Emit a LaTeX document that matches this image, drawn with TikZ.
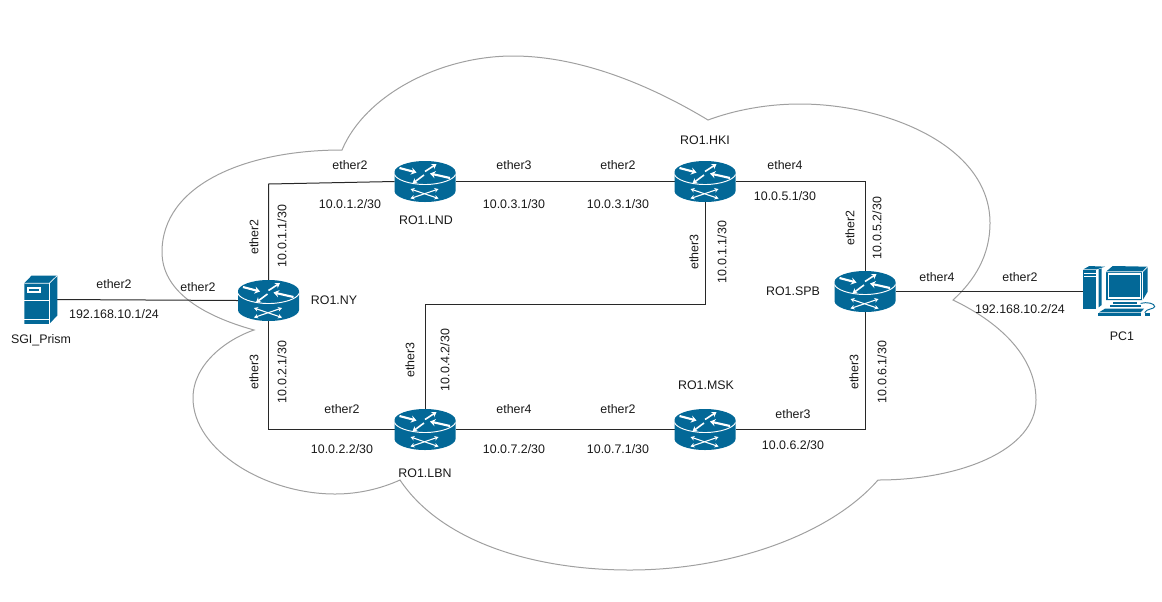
\documentclass[tikz,border=0pt]{standalone}
\usepackage{fontspec}
\setmainfont{Liberation Sans}
\usetikzlibrary{arrows.meta}

\definecolor{ciscoblue}{RGB}{3,104,151}
\tikzset{every picture/.style={line width=0.75pt}}
\tikzset{
  netline/.style={color={rgb, 255:red, 40; green, 40; blue, 40 }},
  cloudline/.style={color={rgb, 255:red, 160; green, 160; blue, 160 }},
  lbl/.style={inner sep=0.75pt,font=\fontsize{9.3pt}{11pt}\selectfont,color={rgb, 255:red, 25; green, 25; blue, 25 }},
  vlbl/.style={lbl,rotate=90},
  routerbox/.style={minimum width=45.75pt,minimum height=30.75pt,inner sep=0pt,outer sep=0pt},
  serverbox/.style={minimum width=24.75pt,minimum height=36pt,inner sep=0pt,outer sep=0pt},
  pcbox/.style={minimum width=54pt,minimum height=38.25pt,inner sep=0pt,outer sep=0pt},
  wedge/.style={white,line width=1.6pt,-{Stealth[length=4pt,width=5.4pt]}},
  smallwedge/.style={white,line width=1.2pt,-{Stealth[length=3.6pt,width=4.6pt]}},
  xarrow/.style={white,line width=0.8pt,{Stealth[length=3pt,width=3.4pt]}-{Stealth[length=3pt,width=3.4pt]}},
  routericon/.pic={
    \fill [ciscoblue] (-30.5,-9.5) .. controls (-30.5,-15.3) and (-16.8,-20.5) .. (0,-20.5) .. controls (16.8,-20.5) and (30.5,-15.3) .. (30.5,-9.5) -- (30.5,9.5) .. controls (30.5,15.3) and (16.8,20.5) .. (0,20.5) .. controls (-16.8,20.5) and (-30.5,15.3) .. (-30.5,9.5) -- cycle;
    \draw [white,line width=0.7pt] (-30.5,-7) .. controls (-29,-2) and (-16,3) .. (0,3) .. controls (16,3) and (29,-2) .. (30.5,-7);
    \draw [wedge] (-25.5,-13.5) -- (-8.5,-9);
    \draw [smallwedge] (0,-10) -- (11.5,-17.5);
    \draw [wedge] (25,-3.5) -- (5,-8);
    \draw [smallwedge] (-1,-6.5) -- (-12.5,2);
    \draw [xarrow] (-14.5,7.5) -- (13.5,17);
    \draw [xarrow] (13.5,7.5) -- (-14.5,17);
  },
  servericon/.pic={
    \begin{scope}[scale=1/3,shift={(-121.5,-117)}]
      \fill [ciscoblue] (73,68) -- (95,45) -- (172,45) -- (172,165) -- (148,190) -- (73,190) -- cycle;
      \draw [white,line width=0.5pt] (73,68) -- (148,68) -- (172,45);
      \draw [white,line width=0.5pt] (148,68) -- (148,190);
      \draw [white,line width=0.5pt] (73,118) -- (148,118);
      \draw [white,line width=0.5pt] (73,175) -- (148,175);
      \fill [white] (80,79) rectangle (124,98);
      \fill [ciscoblue] (87,85) rectangle (117,92);
    \end{scope}
  },
  pcicon/.pic={
    \begin{scope}[scale=1/3,shift={(-207,-124.5)}]
      % tower
      \fill [ciscoblue] (100,58) -- (118,48) -- (165,50) -- (140,58) -- cycle;
      \fill [ciscoblue] (100,60) rectangle (138,178);
      \fill [white] (101,69) rectangle (137,72);
      \fill [white] (101,78) rectangle (137,81);
      \fill [ciscoblue] (146,58) -- (155,55) -- (155,165) -- (146,172) -- cycle;
      % monitor
      \fill [ciscoblue] (168,65) -- (188,48) -- (293,50) -- (293,125) -- (278,150) -- (168,150) -- cycle;
      \draw [white,line width=0.5pt] (168,65) -- (278,65) -- (293,50);
      \draw [white,line width=0.5pt] (278,65) -- (278,150);
      \fill [white] (173,69) rectangle (274,146);
      \fill [ciscoblue] (178,75) rectangle (270,140);
      % stand and keyboard
      \fill [ciscoblue] (190,155) rectangle (262,162);
      \fill [ciscoblue] (180,165) rectangle (272,171);
      \fill [ciscoblue] (165,176) -- (282,176) -- (272,187) -- (147,187) -- cycle;
      \fill [ciscoblue] (144,190) rectangle (272,198);
      % mouse
      \draw [ciscoblue,line width=0.7pt] (272,160) .. controls (290,155) and (315,160) .. (314,170) .. controls (312,178) and (290,175) .. (284,188);
      \fill [ciscoblue] (285,190) rectangle (300,197);
    \end{scope}
  }
}

\begin{document}
\begin{tikzpicture}[x=0.75pt,y=0.75pt,yscale=-1,xscale=1]
  \useasboundingbox (0,0) rectangle (1162,601);

  %Shape: Cloud
  \draw [cloudline] (342,150) .. controls (365,95) and (440,56) .. (513,56) .. controls (580,56) and (650,85) .. (708,120) .. controls (735,110) and (767,104) .. (800,104) .. controls (885,104) and (990,145) .. (990,223) .. controls (990,255) and (975,280) .. (953,300) .. controls (1005,325) and (1036,360) .. (1036,400) .. controls (1036,450) and (960,480) .. (878,480) .. controls (830,535) and (730,570) .. (630,570) .. controls (530,570) and (440,540) .. (400,480) .. controls (380,489) and (358,494) .. (335,494) .. controls (265,494) and (193,450) .. (193,398) .. controls (193,365) and (225,340) .. (254,330) .. controls (200,315) and (162,290) .. (162,252) .. controls (162,185) and (245,150) .. (342,150) -- cycle;

  % Devices
  \node [serverbox] (SGI) at (40.5,299.5) {};
  \node [routerbox] (RONY) at (268.5,300.5) {};
  \node [routerbox] (ROLND) at (425,181.5) {};
  \node [routerbox] (ROHKI) at (705,181.5) {};
  \node [routerbox] (ROSPB) at (865,291.5) {};
  \node [routerbox] (ROLBN) at (425,429.5) {};
  \node [routerbox] (ROMSK) at (705,429.5) {};
  \node [pcbox] (PC) at (1119,291.5) {};
  \coordinate (cNYLND) at (268.5,184);
  \coordinate (cLBNup) at (425,304.5);

  % Links
  \draw [netline] (SGI.east) -- (RONY.west);
  \draw [netline] (RONY.north) -- (cNYLND) -- (ROLND.west);
  \draw [netline] (RONY.south) |- (ROLBN.west);
  \draw [netline] (ROLND.east) -- (ROHKI.west);
  \draw [netline] (ROHKI.east) -| (ROSPB.north);
  \draw [netline] (ROHKI.south) |- (cLBNup) -- (ROLBN.north);
  \draw [netline] (ROLBN.east) -- (ROMSK.west);
  \draw [netline] (ROMSK.east) -| (ROSPB.south);
  \draw [netline] (ROSPB.east) -- (PC.west);

  % Icons
  \pic [transform shape] at (SGI) {servericon};
  \pic [transform shape] at (RONY) {routericon};
  \pic [transform shape] at (ROLND) {routericon};
  \pic [transform shape] at (ROHKI) {routericon};
  \pic [transform shape] at (ROSPB) {routericon};
  \pic [transform shape] at (ROLBN) {routericon};
  \pic [transform shape] at (ROMSK) {routericon};
  \pic [transform shape] at (PC) {pcicon};

  % Device names
  \node [lbl] (nameSGI) at (41,340) {SGI\_Prism};
  \node [lbl] (nameNY) at (334,300) {RO1.NY};
  \node [lbl] (nameLND) at (426,220) {RO1.LND};
  \node [lbl] (nameHKI) at (705,140) {RO1.HKI};
  \node [lbl] (nameSPB) at (793,291) {RO1.SPB};
  \node [lbl] (nameLBN) at (425,473) {RO1.LBN};
  \node [lbl] (nameMSK) at (706,385) {RO1.MSK};
  \node [lbl] (namePC) at (1122,336) {PC1};

  % SGI to NY
  \node [lbl] (ethSGI) at (114,284) {ether2};
  \node [lbl] (ipSGI) at (114,314) {192.168.10.1/24};
  \node [lbl] (ethNYa) at (198,287) {ether2};
  % NY to LND
  \node [vlbl] (ethNYb) at (254,237) {ether2};
  \node [vlbl] (ipNYb) at (282,236) {10.0.1.1/30};
  \node [lbl] (ethLNDa) at (350,165) {ether2};
  \node [lbl] (ipLNDa) at (350,204) {10.0.1.2/30};
  % LND to HKI
  \node [lbl] (ethLNDb) at (514,165) {ether3};
  \node [lbl] (ipLNDb) at (514,204) {10.0.3.1/30};
  \node [lbl] (ethHKIa) at (618,165) {ether2};
  \node [lbl] (ipHKIa) at (618,204) {10.0.3.1/30};
  % HKI to SPB
  \node [lbl] (ethHKIb) at (785,165) {ether4};
  \node [lbl] (ipHKIb) at (785,196) {10.0.5.1/30};
  \node [vlbl] (ethSPBa) at (850,228) {ether2};
  \node [vlbl] (ipSPBa) at (877,228) {10.0.5.2/30};
  % HKI to LBN
  \node [vlbl] (ethHKIc) at (694,252) {ether3};
  \node [vlbl] (ipHKIc) at (722,252) {10.0.1.1/30};
  \node [vlbl] (ethLBNa) at (410,360) {ether3};
  \node [vlbl] (ipLBNa) at (445,360) {10.0.4.2/30};
  % NY to LBN
  \node [vlbl] (ethNYc) at (254,372) {ether3};
  \node [vlbl] (ipNYc) at (282,372) {10.0.2.1/30};
  \node [lbl] (ethLBNb) at (342,409) {ether2};
  \node [lbl] (ipLBNb) at (342,449) {10.0.2.2/30};
  % LBN to MSK
  \node [lbl] (ethLBNc) at (514,409) {ether4};
  \node [lbl] (ipLBNc) at (514,449) {10.0.7.2/30};
  \node [lbl] (ethMSKa) at (618,409) {ether2};
  \node [lbl] (ipMSKa) at (618,449) {10.0.7.1/30};
  % MSK to SPB
  \node [lbl] (ethMSKb) at (793,414) {ether3};
  \node [lbl] (ipMSKb) at (793,445) {10.0.6.2/30};
  \node [vlbl] (ethSPBb) at (854,372) {ether3};
  \node [vlbl] (ipSPBb) at (882,372) {10.0.6.1/30};
  % SPB to PC
  \node [lbl] (ethSPBc) at (937,277) {ether4};
  \node [lbl] (ethPC) at (1020,277) {ether2};
  \node [lbl] (ipPC) at (1020,309) {192.168.10.2/24};
\end{tikzpicture}
\end{document}
